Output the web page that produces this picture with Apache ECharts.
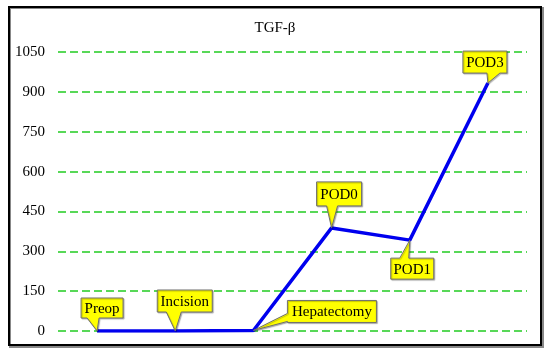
<!DOCTYPE html>
<html>
<head>
<meta charset="utf-8">
<script src="https://cdn.jsdelivr.net/npm/echarts@6/dist/echarts.min.js"></script>
<style>
html,body{margin:0;padding:0;background:#fff;}
#c{width:550px;height:355px;}
</style>
</head>
<body>
<div id="c"></div>
<script>
// ---- data ----
const categories = ['Preop', 'Incision', 'Hepatectomy', 'POD0', 'POD1', 'POD3'];
const values = [0, 0, 2, 388, 342, 933];
const yMin = 0;
const yMax = 1050;
const yInterval = 150;
const chartTitle = 'TGF-\u03B2';

// ---- callout layout (box offset from point, size, tail) ----
const calloutLayout = [
  {dx: -16, dy: -33, w: 42, h: 20, side: 'bottom', t0: 6, t1: 18},
  {dx: -18, dy: -41, w: 55, h: 22, side: 'bottom', t0: 9, t1: 24},
  {dx: 34, dy: -30, w: 89, h: 22, side: 'left', t0: 13, t1: 21},
  {dx: -15, dy: -46, w: 45, h: 24, side: 'bottom', t0: 10, t1: 21},
  {dx: -19, dy: 18, w: 43, h: 21, side: 'top', t0: 9, t1: 18},
  {dx: -25, dy: -32, w: 44, h: 22, side: 'bottom', t0: 24, t1: 37}
];

const FONT = '"Liberation Serif", "Times New Roman", serif';

function renderCallout(params, api) {
  const i = params.dataIndex;
  const p = api.coord([api.value(0), api.value(1)]);
  const L = calloutLayout[i];
  const px = p[0], py = p[1];
  const x0 = px + L.dx, y0 = py + L.dy, x1 = x0 + L.w, y1 = y0 + L.h;
  let pts;
  if (L.side === 'bottom') {
    pts = [[x0, y0], [x1, y0], [x1, y1], [x0 + L.t1, y1], [px, py], [x0 + L.t0, y1], [x0, y1]];
  } else if (L.side === 'top') {
    pts = [[x0, y0], [x0 + L.t0, y0], [px, py], [x0 + L.t1, y0], [x1, y0], [x1, y1], [x0, y1]];
  } else {
    pts = [[x0, y0], [x1, y0], [x1, y1], [x0, y1], [x0, y0 + L.t1], [px, py], [x0, y0 + L.t0]];
  }
  return {
    type: 'group',
    children: [
      {
        type: 'polygon',
        shape: {points: pts},
        style: {fill: '#FFFF00', stroke: '#6E6E6E', lineWidth: 1,
                shadowColor: 'rgba(0,0,0,0.25)', shadowOffsetX: 1, shadowOffsetY: 1, shadowBlur: 1}
      },
      {
        type: 'text',
        style: {
          text: categories[i],
          x: (x0 + x1) / 2,
          y: (y0 + y1) / 2 + 1,
          align: 'center',
          verticalAlign: 'middle',
          font: '15px ' + FONT,
          fill: '#000'
        }
      }
    ]
  };
}

const chart = echarts.init(document.getElementById('c'), null, {renderer: 'canvas'});
chart.setOption({
  backgroundColor: '#fff',
  animation: false,
  title: {
    text: chartTitle,
    left: 'center',
    top: 16,
    textStyle: {fontFamily: FONT, fontSize: 15, fontWeight: 'normal', color: '#000'}
  },
  graphic: [
    {type: 'rect', shape: {x: 10, y: 8, width: 533, height: 339},
     style: {fill: 'none', stroke: '#888', lineWidth: 2}, silent: true},
    {type: 'rect', shape: {x: 9, y: 7, width: 532, height: 338},
     style: {fill: 'none', stroke: '#000', lineWidth: 2}, silent: true}
  ],
  grid: {left: 58, right: 23, top: 52, bottom: 24, containLabel: false},
  xAxis: {
    type: 'category',
    data: categories,
    boundaryGap: true,
    axisLine: {show: false},
    axisTick: {show: false},
    axisLabel: {show: false},
    splitLine: {show: false}
  },
  yAxis: {
    type: 'value',
    min: yMin,
    max: yMax,
    interval: yInterval,
    axisLine: {show: false},
    axisTick: {show: false},
    axisLabel: {margin: 13, fontFamily: FONT, fontSize: 15, color: '#000',
                formatter: function (v) { return String(v); }},
    splitLine: {show: true, lineStyle: {color: '#22CC22', width: 1.6, type: [8, 4]}}
  },
  series: [
    {
      type: 'line',
      data: values,
      symbol: 'none',
      lineStyle: {color: '#0000EE', width: 3.5},
      z: 2
    },
    {
      type: 'custom',
      coordinateSystem: 'cartesian2d',
      data: values.map((v, i) => [i, v]),
      renderItem: renderCallout,
      clip: false,
      z: 5
    }
  ]
});
</script>
</body>
</html>
